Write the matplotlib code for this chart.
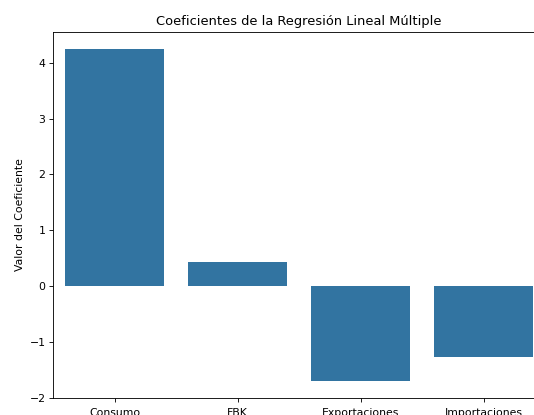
import matplotlib
matplotlib.use("Agg")
import matplotlib.pyplot as plt

variables = ["Consumo", "FBK", "Exportaciones", "Importaciones"]
coeficientes = [4.25, 0.43, -1.70, -1.27]

# the reference looks like a shrunk-down default figure, so scale the styling
s = 0.78
plt.rcParams.update({
    "font.size": 10 * s,
    "axes.titlesize": 12 * s,
    "axes.labelsize": 10 * s,
    "xtick.labelsize": 10 * s,
    "ytick.labelsize": 10 * s,
    "axes.linewidth": 0.8 * s,
    "xtick.major.size": 3.5 * s,
    "ytick.major.size": 3.5 * s,
    "xtick.major.width": 0.8 * s,
    "ytick.major.width": 0.8 * s,
    "xtick.major.pad": 4.5,
    "ytick.major.pad": 3.5 * s,
    "axes.titlepad": 6 * s,
    "axes.labelpad": 4 * s,
})

fig = plt.figure(figsize=(5.34, 4.15), dpi=100)
# axes run past the right edge, the reference is a crop of a larger figure
ax = fig.add_axes([53 / 534, 17 / 415, 492 / 534, 366 / 415])

ax.bar(variables, coeficientes, width=0.8, color="#3274a1")
ax.set_xlim(-0.5, 3.5)
ax.set_ylim(-2.0, 4.55)
ax.set_title("Coeficientes de la Regresión Lineal Múltiple")
ax.set_ylabel("Valor del Coeficiente")

fig.savefig("out.png", dpi=100)
